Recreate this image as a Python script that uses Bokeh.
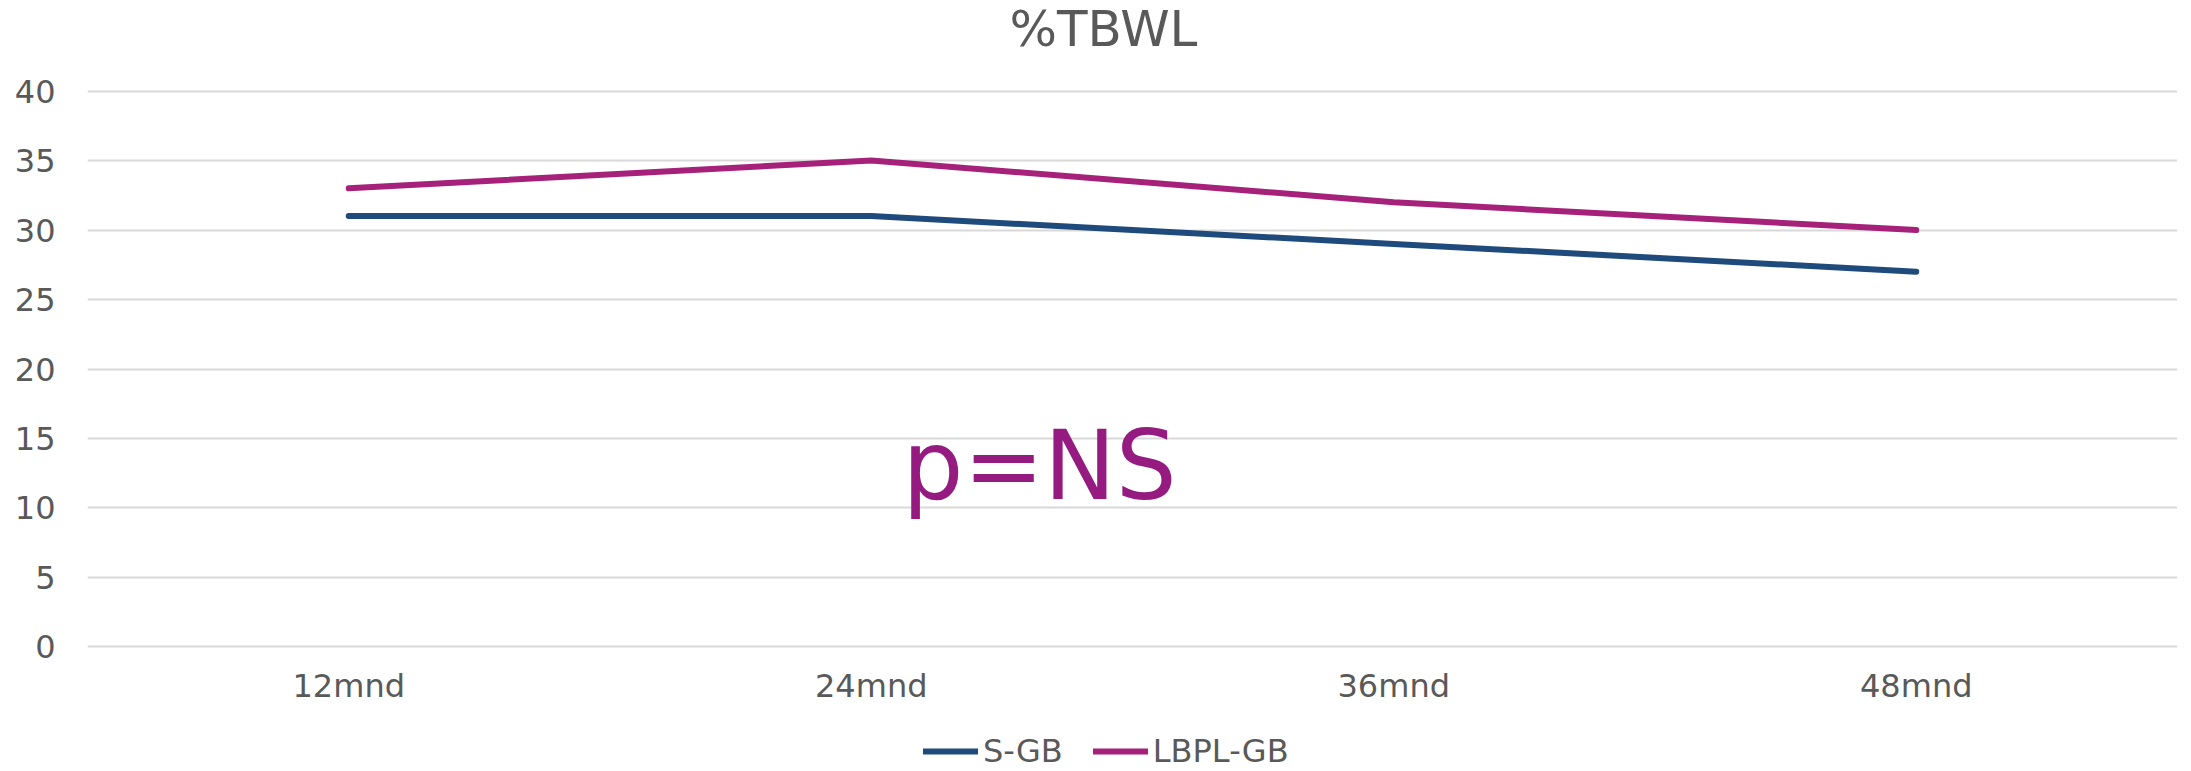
from bokeh.plotting import figure
from bokeh.models import FactorRange, Range1d, FixedTicker, Legend, LegendItem, Label
from bokeh.embed import file_html
from bokeh.resources import INLINE

# ---- data ----
categories = ["12mnd", "24mnd", "36mnd", "48mnd"]
s_gb = [31, 31, 29, 27]
lbpl_gb = [33, 35, 32, 30]
y_ticks = [0, 5, 10, 15, 20, 25, 30, 35, 40]
title_text = "%TBWL"
annotation_text = "p=NS"

FONT = "DejaVu Sans"
GRAY = "#595959"
BLUE = "#1F4A7C"
PURPLE = "#A5217A"
ANNOT = "#951B81"

# frame spans the full height; value 0 sits at y=646.5px and 40 at y=90.5px
p = figure(
    width=2191, height=771,
    x_range=FactorRange(*categories),
    y_range=Range1d(-8.957, 46.511),
    output_backend="svg", toolbar_location=None,
    min_border_left=87, min_border_right=14,
    min_border_top=0, min_border_bottom=0,
)
p.outline_line_color = None
p.background_fill_color = "white"
p.border_fill_color = "white"

# grid
p.xgrid.grid_line_color = None
p.ygrid.ticker = FixedTicker(ticks=y_ticks)
p.ygrid.grid_line_color = "#D9D9D9"
p.ygrid.grid_line_width = 2

# axes
p.yaxis.ticker = FixedTicker(ticks=y_ticks)
p.xaxis.fixed_location = 0
for ax in (p.xaxis[0], p.yaxis[0]):
    ax.axis_line_color = None
    ax.major_tick_line_color = None
    ax.minor_tick_line_color = None
    ax.major_tick_out = 0
    ax.major_tick_in = 0
    ax.major_label_text_font = FONT
    ax.major_label_text_font_size = "32px"
    ax.major_label_text_color = GRAY
p.yaxis.major_label_standoff = 32
p.xaxis.major_label_standoff = 20

r1 = p.line(categories, s_gb, line_color=BLUE, line_width=6, line_cap="round", line_join="round")
r2 = p.line(categories, lbpl_gb, line_color=PURPLE, line_width=6, line_cap="round", line_join="round")

legend = Legend(
    items=[LegendItem(label="S-GB", renderers=[r1]), LegendItem(label="LBPL-GB", renderers=[r2])],
    orientation="horizontal",
    location=(836, 0),
    label_text_font=FONT, label_text_font_size="32px", label_text_color=GRAY,
    glyph_width=55, glyph_height=40, label_height=40,
    label_standoff=5, spacing=30, padding=0, margin=0,
    border_line_color=None, background_fill_alpha=0,
)
p.add_layout(legend, "center")

p.add_layout(Label(
    x=1016, y=743, x_units="screen", y_units="screen", text=title_text,
    text_font=FONT, text_font_size="50px", text_color=GRAY,
    text_align="center", text_baseline="alphabetic",
))

p.add_layout(Label(
    x=1.56, y=13.0, text=annotation_text,
    text_font=FONT, text_font_size="96px", text_color=ANNOT,
    text_align="left", text_baseline="alphabetic",
))

open("out.html", "w").write(file_html(p, INLINE))
